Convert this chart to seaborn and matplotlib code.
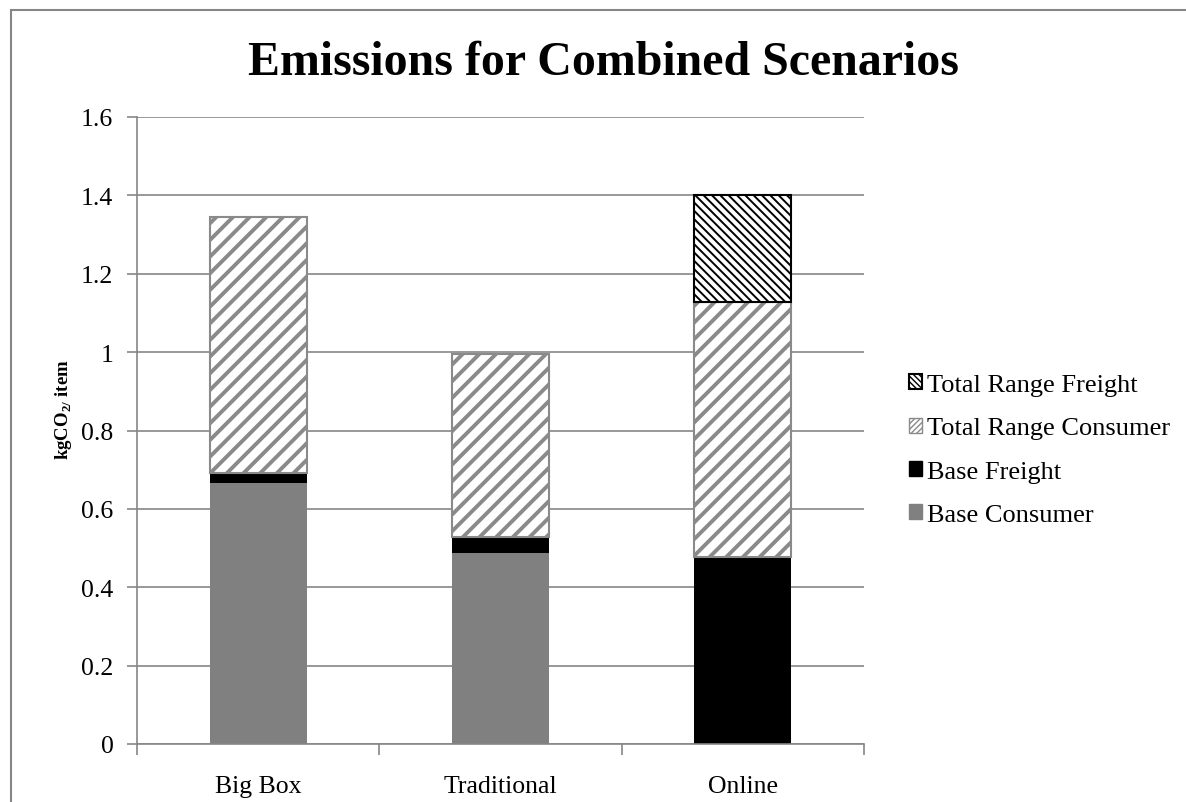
import matplotlib
matplotlib.use("Agg")
import matplotlib.pyplot as plt
import seaborn as sns
import pandas as pd
import numpy as np
from matplotlib.patches import Rectangle, Patch

categories = ["Big Box", "Traditional", "Online"]
base_consumer = [0.666, 0.487, 0.0]
base_freight = [0.026, 0.041, 0.477]
range_consumer = [0.653, 0.467, 0.651]
range_freight = [0.0, 0.0, 0.272]
yticks = [0, 0.2, 0.4, 0.6, 0.8, 1, 1.2, 1.4, 1.6]
ytick_labels = ["0", "0.2", "0.4", "0.6", "0.8", "1", "1.2", "1.4", "1.6"]

sns.set_theme(style="white")
plt.rcParams["font.family"] = ["Liberation Serif", "DejaVu Serif"]
plt.rcParams["mathtext.fontset"] = "custom"
plt.rcParams["mathtext.rm"] = "Liberation Serif"
plt.rcParams["mathtext.bf"] = "Liberation Serif:bold"
plt.rcParams["text.color"] = "black"
plt.rcParams["axes.labelcolor"] = "black"
plt.rcParams["xtick.labelcolor"] = "black"
plt.rcParams["ytick.labelcolor"] = "black"

fig = plt.figure(figsize=(11.86, 8.03), dpi=100)
ax = fig.add_axes([137/1186, 1-745/803, (864-137)/1186, (745-118)/803])

df = pd.DataFrame({"cat": categories, "bc": base_consumer, "bf": base_freight,
                   "rc": range_consumer, "rf": range_freight})
b1 = np.array(base_consumer)
b2 = b1 + np.array(base_freight)
b3 = b2 + np.array(range_consumer)

layers = [
    ("bc", np.zeros(3), dict(color="#808080", edgecolor="#808080", linewidth=0), None, 0),
    ("bf", b1, dict(color="black", edgecolor="black", linewidth=0), None, 0),
    ("rc", b2, dict(facecolor="white", edgecolor="#8a8a8a", linewidth=1.5), "//", 2.8),
    ("rf", b3, dict(facecolor="white", edgecolor="black", linewidth=1.5), "\\\\\\\\", 1.4),
]
for key, bottom, style, hatch, hlw in layers:
    n_before = len(ax.patches)
    with plt.rc_context({"hatch.linewidth": hlw if hlw else 1.0}):
        sns.barplot(data=df, x="cat", y=key, bottom=bottom, width=0.4, ax=ax,
                    order=categories, **{k: v for k, v in style.items() if k != "color"},
                    color=style.get("color", style.get("facecolor")))
    for p in ax.patches[n_before:]:
        if "facecolor" in style:
            p.set_facecolor(style["facecolor"])
        p.set_edgecolor(style["edgecolor"])
        p.set_linewidth(style["linewidth"])
        if hatch:
            p.set_hatch(hatch)
            if hasattr(p, "set_hatch_linewidth"):
                p.set_hatch_linewidth(hlw)
        if p.get_height() <= 0:
            p.set_visible(False)

ax.set_ylim(0, 1.6)
ax.set_xlim(-0.5, 2.5)
ax.set_yticks(yticks)
ax.set_yticklabels(ytick_labels)
ax.yaxis.grid(True, color="#868686", linewidth=1.2)
ax.set_axisbelow(True)
for s in ["top", "right"]:
    ax.spines[s].set_visible(False)
for s in ["left", "bottom"]:
    ax.spines[s].set_color("#868686")
    ax.spines[s].set_linewidth(1.2)

ax.set_xticks([0, 1, 2])
ax.set_xticklabels(categories)
ax.set_xticks([-0.5, 0.5, 1.5, 2.5], minor=True)
ax.tick_params(axis="x", which="major", length=0, labelsize=18.5, pad=22, labelcolor="black")
ax.tick_params(axis="x", which="minor", length=8, width=1.2, color="#868686", direction="out")
ax.tick_params(axis="y", length=7, width=1.2, color="#868686", direction="out", labelsize=18.5,
               pad=10, labelcolor="black")
ax.tick_params(axis="y", which="both", left=True)
ax.tick_params(axis="x", which="minor", bottom=True)

ax.set_xlabel("")
ax.set_ylabel(r"kgCO$_{\mathbf{2/}}$ item", fontsize=13.5, fontweight="bold", color="black")
ax.yaxis.set_label_coords(-0.086, 0.535)

fig.suptitle("Emissions for Combined Scenarios", fontsize=34.5, fontweight="bold",
             x=603/1186, y=1-63/803, va="center", color="black")

with plt.rc_context({"hatch.linewidth": 1.0}):
    h_rf = Patch(facecolor="white", edgecolor="black", hatch="\\\\\\\\\\\\", linewidth=1.5, label="Total Range Freight")
    h_rc = Patch(facecolor="white", edgecolor="#8a8a8a", hatch="//////", linewidth=1.0, label="Total Range Consumer")
    h_bf = Patch(facecolor="black", edgecolor="black", label="Base Freight")
    h_bc = Patch(facecolor="#808080", edgecolor="#808080", label="Base Consumer")
leg = fig.legend(handles=[h_rf, h_rc, h_bf, h_bc], loc="center left",
                 bbox_to_anchor=(885/1186, 1-451/803), frameon=False, fontsize=19,
                 handlelength=0.5, handleheight=0.5, handletextpad=0.2, labelspacing=0.8)
for t in leg.get_texts():
    t.set_color("black")

fig.patches.append(Rectangle((11/1186, -0.1), 1.2, 1-11/803+0.1, transform=fig.transFigure,
                             fill=False, edgecolor="#868686", linewidth=1.5, zorder=-1))

fig.savefig("out.png", dpi=100)
